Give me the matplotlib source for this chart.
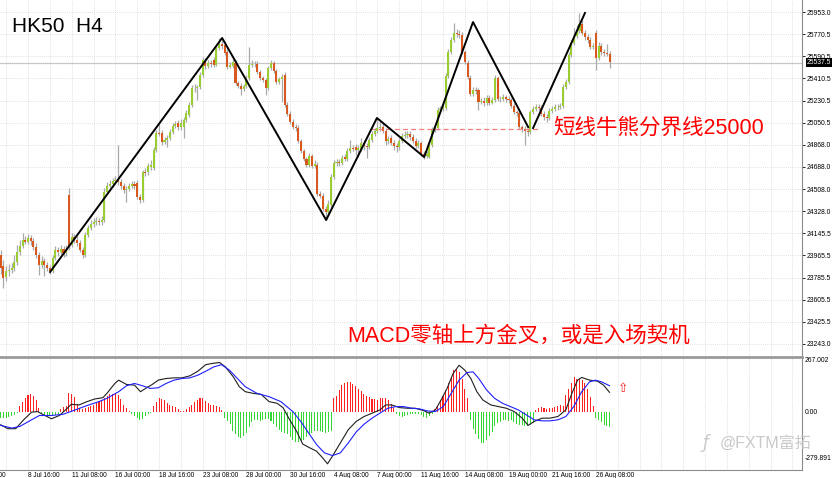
"""HK50 H4 candlestick chart with MACD sub-window (MT4 style screenshot)."""

import matplotlib.pyplot as plt
from matplotlib.transforms import blended_transform_factory

plt.rcParams['font.family'] = ['Liberation Sans', 'Noto Sans CJK SC', 'DejaVu Sans']

# ---- price data (H4 bars) ----
opens = [
    23969, 23880, 23790, 23839, 23847, 23863, 23912, 23994, 24043, 24092,
    24076, 24108, 24084, 24035, 23969, 23888, 23920, 23888, 23863, 23839,
    23945, 24010, 23994, 24018, 23986, 24459, 24051, 24116, 24092, 24067,
    24010, 23969, 24133, 24190, 24222, 24239, 24247, 24239, 24255, 24484,
    24533, 24549, 24573, 24582, 24565, 24533, 24500, 24508, 24533, 24549,
    24557, 24443, 24418, 24647, 24647, 24688, 24680, 24827, 24965, 24965,
    24892, 24908, 24925, 24973, 25022, 25047, 25014, 25014, 25071, 25112,
    25194, 25333, 25333, 25341, 25439, 25545, 25512, 25537, 25561, 25520,
    25659, 25692, 25684, 25627, 25504, 25512, 25537, 25373, 25349, 25324,
    25349, 25414, 25520, 25529, 25529, 25463, 25414, 25398, 25333, 25496,
    25537, 25471, 25382, 25406, 25439, 25194, 25120, 25055, 25014, 25006,
    24900, 24818, 24753, 24704, 24778, 24696, 24704, 24467, 24451, 24345,
    24320, 24378, 24606, 24720, 24729, 24720, 24769, 24753, 24818, 24843,
    24851, 24827, 24835, 24884, 24859, 24851, 24908, 24957, 24982, 25006,
    25014, 24982, 24900, 24925, 24884, 24859, 24851, 24900, 24941, 24949,
    24957, 24933, 24900, 24859, 24884, 24794, 24778, 24769, 24867, 24990,
    25006, 25153, 25161, 25169, 25431, 25627, 25724, 25782, 25773, 25765,
    25627, 25537, 25414, 25284, 25316, 25316, 25218, 25227, 25210, 25251,
    25210, 25235, 25414, 25243, 25243, 25259, 25243, 25235, 25186, 25137,
    25129, 25014, 24998, 24982, 24973, 25137, 25161, 25178, 25169, 25120,
    25096, 25088, 25145, 25161, 25178, 25178, 25186, 25341, 25382, 25602,
    25700, 25757, 25798, 25855, 25782, 25749, 25724, 25667, 25782, 25578,
    25676, 25627, 25618, 25610,
]
highs = [
    24010, 23929, 23880, 23896, 23904, 23969, 24051, 24092, 24149, 24125,
    24141, 24133, 24108, 24067, 23994, 23961, 23945, 23912, 23888, 23969,
    24043, 24035, 24051, 24043, 24051, 24516, 24149, 24141, 24125, 24092,
    24035, 24157, 24214, 24255, 24271, 24280, 24271, 24288, 24516, 24565,
    24582, 24598, 24614, 24867, 24590, 24557, 24533, 24557, 24573, 24573,
    24582, 24467, 24663, 24680, 24720, 24745, 24851, 24990, 25047, 24990,
    24933, 24949, 24998, 25047, 25063, 25071, 25080, 25096, 25153, 25218,
    25357, 25365, 25357, 25463, 25586, 25578, 25561, 25561, 25586, 25684,
    25741, 25724, 25708, 25651, 25545, 25569, 25561, 25390, 25373, 25365,
    25439, 25667, 25561, 25553, 25553, 25480, 25431, 25414, 25512, 25561,
    25553, 25488, 25422, 25447, 25463, 25218, 25145, 25080, 25039, 25031,
    24916, 24835, 24769, 24802, 24794, 24745, 24729, 24492, 24476, 24369,
    24418, 24631, 24745, 24753, 24753, 24786, 24794, 24843, 24908, 24867,
    24876, 24867, 24925, 24908, 24884, 24933, 24982, 25006, 25088, 25071,
    25047, 25006, 24941, 24949, 24908, 24884, 24925, 24965, 24982, 24982,
    24982, 24957, 24925, 24908, 24900, 24818, 24818, 24892, 25014, 25031,
    25178, 25186, 25202, 25455, 25651, 25749, 25863, 25814, 25806, 25790,
    25643, 25561, 25439, 25341, 25341, 25333, 25251, 25259, 25276, 25276,
    25259, 25439, 25431, 25267, 25284, 25276, 25267, 25251, 25210, 25153,
    25145, 25031, 25022, 25006, 25153, 25186, 25202, 25202, 25194, 25145,
    25120, 25169, 25186, 25202, 25202, 25210, 25365, 25406, 25627, 25724,
    25822, 25847, 25945, 25888, 25806, 25773, 25749, 25700, 25806, 25708,
    25700, 25651, 25692, 25635,
]
lows = [
    23814, 23700, 23757, 23798, 23822, 23839, 23888, 23969, 24027, 24059,
    24059, 24051, 24010, 23945, 23806, 23863, 23798, 23839, 23814, 23822,
    23929, 23961, 23977, 23953, 23961, 24010, 24035, 24067, 24043, 23994,
    23945, 23953, 24116, 24173, 24198, 24214, 24214, 24214, 24239, 24467,
    24508, 24524, 24549, 24541, 24508, 24476, 24402, 24492, 24516, 24508,
    24427, 24394, 24402, 24614, 24622, 24663, 24663, 24810, 24941, 24867,
    24876, 24851, 24908, 24957, 25006, 24990, 24990, 24925, 25055, 25096,
    25178, 25300, 25235, 25324, 25422, 25488, 25496, 25504, 25504, 25512,
    25643, 25651, 25602, 25488, 25496, 25496, 25357, 25333, 25276, 25308,
    25333, 25398, 25504, 25504, 25447, 25398, 25382, 25276, 25316, 25480,
    25455, 25365, 25365, 25218, 25178, 25104, 25039, 24998, 24982, 24884,
    24802, 24737, 24688, 24688, 24680, 24680, 24451, 24435, 24329, 24255,
    24296, 24361, 24590, 24696, 24696, 24704, 24737, 24737, 24802, 24818,
    24786, 24769, 24818, 24827, 24761, 24835, 24892, 24941, 24965, 24982,
    24965, 24867, 24876, 24867, 24827, 24810, 24827, 24884, 24925, 24925,
    24908, 24884, 24843, 24843, 24778, 24753, 24761, 24761, 24851, 24973,
    24990, 25137, 25145, 25153, 25414, 25610, 25708, 25749, 25741, 25610,
    25529, 25406, 25267, 25267, 25284, 25153, 25202, 25186, 25194, 25194,
    25202, 25218, 25227, 25218, 25227, 25218, 25210, 25169, 25120, 25104,
    24998, 24973, 24867, 24941, 24957, 25120, 25145, 25145, 25104, 25071,
    25055, 25071, 25129, 25145, 25153, 25161, 25169, 25324, 25365, 25586,
    25684, 25741, 25782, 25765, 25724, 25700, 25651, 25651, 25480, 25561,
    25602, 25594, 25594, 25496,
]
closes = [
    23863, 23782, 23839, 23847, 23863, 23912, 23994, 24043, 24092, 24076,
    24108, 24084, 24035, 23969, 23888, 23920, 23888, 23863, 23839, 23945,
    24010, 23994, 24018, 23986, 24010, 24035, 24116, 24092, 24067, 24010,
    23969, 24133, 24190, 24222, 24239, 24247, 24239, 24255, 24484, 24533,
    24549, 24573, 24582, 24565, 24533, 24500, 24508, 24533, 24549, 24533,
    24443, 24418, 24647, 24640, 24696, 24704, 24827, 24965, 24960, 24892,
    24908, 24925, 24973, 25022, 25039, 25014, 25047, 25071, 25129, 25194,
    25333, 25330, 25338, 25439, 25561, 25512, 25537, 25529, 25520, 25659,
    25692, 25676, 25618, 25504, 25520, 25545, 25373, 25349, 25324, 25349,
    25414, 25520, 25529, 25525, 25463, 25414, 25398, 25333, 25496, 25537,
    25471, 25382, 25406, 25422, 25194, 25120, 25055, 25014, 25006, 24900,
    24818, 24753, 24704, 24778, 24696, 24712, 24467, 24451, 24345, 24320,
    24386, 24606, 24720, 24729, 24720, 24761, 24753, 24818, 24843, 24838,
    24827, 24843, 24884, 24859, 24851, 24908, 24957, 24982, 25006, 25014,
    24982, 24900, 24916, 24884, 24859, 24851, 24900, 24941, 24949, 24957,
    24933, 24900, 24859, 24884, 24794, 24778, 24794, 24867, 24990, 25006,
    25153, 25161, 25178, 25431, 25627, 25724, 25782, 25773, 25765, 25627,
    25545, 25422, 25284, 25316, 25308, 25218, 25227, 25210, 25251, 25210,
    25235, 25414, 25243, 25240, 25259, 25243, 25235, 25186, 25137, 25129,
    25014, 24998, 24982, 24973, 25137, 25161, 25178, 25169, 25120, 25096,
    25088, 25145, 25161, 25178, 25174, 25186, 25341, 25382, 25602, 25700,
    25757, 25798, 25855, 25782, 25749, 25724, 25667, 25676, 25578, 25676,
    25627, 25618, 25610, 25545,
]
last_price = 25537.5

price_ticks = [25953.0, 25770.5, 25590.5, 25410.5, 25230.5, 25050.5, 24868.0, 24688.0,
               24508.0, 24328.0, 24145.5, 23965.5, 23785.5, 23605.5, 23425.5, 23243.0]

date_labels = ["4 Jul 00:00", "8 Jul 16:00", "11 Jul 08:00", "16 Jul 00:00", "18 Jul 16:00",
               "23 Jul 08:00", "28 Jul 00:00", "30 Jul 16:00", "4 Aug 08:00", "7 Aug 00:00",
               "11 Aug 16:00", "14 Aug 08:00", "19 Aug 00:00", "21 Aug 16:00", "26 Aug 08:00"]
date_bars = [-9.8, 10, 26, 42, 58, 74, 90, 106, 122, 138, 154, 170, 186, 202, 218]

# zig-zag trend lines drawn on the chart (bar index, price)
zig1_bars = [18.1, 81.1, 119.2, 137.8, 155.1, 173.0, 193.2]
zig1_prices = [23831, 25741, 24255, 25088, 24769, 25871, 25014]
zig2_bars = [195.0, 214.0]
zig2_prices = [25006, 25945]
bull_bear_level = 25000
level_from, level_to = 135.3, 196.8

# ---- MACD sub window ----
hist = [
    -29, -29, -27, -24, -18, -12, -3, 30, 51, 70,
    83, 86, 80, 59, 22, -3, -13, -16, -18, -19,
    -16, -8, 16, 27, 32, 91, 88, 75, 40, 22,
    17, 20, 25, 32, 35, 42, 52, 60, 69, 76,
    86, 86, 91, 84, 66, 35, 20, 6, -8, -17,
    -27, -38, -31, -17, -7, -3, 30, 50, 70, 66,
    58, 43, 35, 28, 23, 13, 5, 4, 13, 27,
    37, 50, 58, 67, 68, 56, 42, 33, 34, 32,
    25, 10, -30, -42, -55, -92, -108, -120, -125, -116,
    -100, -70, -48, -38, -37, -42, -40, -34, -35, -43,
    -55, -70, -86, -96, -101, -104, -119, -133, -143, -144,
    -139, -134, -122, -112, -100, -93, -92, -91, -97, -101,
    -96, -93, 67, 80, 105, 132, 139, 144, 144, 135,
    125, 110, 101, 88, 79, 71, 64, 63, 59, 67,
    70, 67, 60, 40, 18, -10, -19, -22, -20, -15,
    -9, -8, -10, -8, -13, -23, -30, -20, -8, 17,
    32, 58, 78, 105, 140, 170, 205, 208, 192, 160,
    110, 70, -40, -80, -108, -132, -150, -150, -136, -113,
    -98, -68, -54, -46, -38, -37, -42, -40, -46, -56,
    -61, -61, -69, -69, -64, -54, 12, 19, 26, 22,
    17, 18, 21, 24, 29, 34, 30, 83, 112, 142,
    168, 162, 162, 157, 140, 110, 72, 32, -30, -40,
    -48, -62, -69, -70,
]
macd_bars = [0, 2.6, 5.5, 8.4, 11.3, 13.5, 15.7, 18.6, 21.5, 24.4,
             25.8, 28.7, 31.6, 34.5, 37.4, 38.9, 41.8, 43.2, 46.1, 49,
             51.2, 53.4, 55.5, 57.7, 60.6, 63.5, 66.4, 69.3, 72.2, 75.1,
             78, 80.2, 82.3, 85.2, 87.4, 89.6, 92.5, 95.4, 98.3, 101.2,
             103.4, 105.5, 108.4, 110.6, 112.8, 115.7, 117.9, 119.7, 121.5, 124.4,
             127.3, 130.2, 133.1, 136, 138.9, 141, 143.2, 146.1, 149, 151.9,
             154.8, 157, 159.2, 161.3, 163.5, 165.7, 167.9, 170, 172.2, 174.4,
             176.6, 179.5, 182.3, 185.2, 188.1, 191, 193.2, 195.4, 198.3, 201.2,
             204.1, 207, 209.2, 211.3, 212.8, 215.7, 218.6, 220.8, 223]
macd_vals = [-61, -80, -80, -37, 0, 3, -13, -32, -16, 19,
             38, 35, 51, 64, 70, 91, 139, 155, 134, 131,
             99, 118, 134, 155, 163, 166, 166, 176, 198, 230,
             237, 240, 219, 171, 123, 99, 91, 86, 51, 43,
             22, -29, -93, -154, -170, -189, -221, -250, -213, -149,
             -85, -45, -21, -5, 11, 35, 35, 22, 19, 19,
             8, -5, 11, 59, 115, 187, 227, 203, 163, 99,
             59, 35, 27, 19, 3, -29, -64, -45, -29, -29,
             -21, 11, 91, 155, 168, 155, 150, 131, 96]
signal_bars = [0, 4.1, 7.0, 11.3, 14.2, 18.6, 22.9, 27.3, 31.6, 36,
               38.9, 43.2, 46.1, 49, 51.9, 54.8, 57.7, 60.6, 63.5, 66.4,
               69.3, 72.2, 75.1, 78, 80.9, 83.8, 86.7, 89.6, 93.9, 98.3,
               102.6, 107, 109.9, 112.8, 115.7, 118.6, 121.5, 124.4, 127.3, 130.2,
               133.1, 136, 138.9, 141.8, 144.7, 147.6, 150.5, 153.4, 156.3, 159.2,
               162.1, 165, 167.9, 170.8, 173, 175.1, 178, 180.9, 183.8, 186.7,
               189.6, 192.5, 195.4, 198.3, 201.2, 204.1, 207, 209.9, 212.8, 215.7,
               217.9, 220, 223]
signal_vals = [-64, -77, -69, -37, -16, -16, -10, 11, 32, 51,
               67, 99, 128, 139, 128, 115, 118, 139, 155, 163,
               166, 179, 198, 219, 230, 203, 163, 123, 91, 75,
               51, 3, -45, -101, -157, -197, -210, -197, -149, -96,
               -58, -29, -5, 19, 27, 27, 19, 16, 6, 3,
               27, 91, 155, 192, 195, 163, 107, 67, 43, 27,
               11, -13, -37, -42, -42, -37, -21, 27, 99, 147,
               155, 147, 128]
macd_top, macd_bottom = 267.002, -279.891

BULL = "#9ACD32"
BEAR = "#D9581E"
WICK = "#A9A9A9"
GRID = "#D6D6D6"

W, H = 832, 478
fig = plt.figure(figsize=(W / 100, H / 100), dpi=100)
ax = fig.add_axes([0, 1 - 356 / H, 802 / W, 356 / H])
axm = fig.add_axes([0, 1 - 470 / H, 802 / W, 113 / H], sharex=ax)

n = len(closes)
bars = list(range(n))
x_left, x_right = -0.26, 293.5

# grid
for a in (ax, axm):
    for gx in range(2, 294, 8):
        a.axvline(gx, color=GRID, lw=0.6, ls=(0, (1, 1.5)), zorder=0)
for p in price_ticks:
    ax.axhline(p, color=GRID, lw=0.6, ls=(0, (1, 1.5)), zorder=0)

# candles
ax.vlines(bars, lows, highs, color=WICK, lw=0.9, zorder=2)
bodies_bottom = [min(o, c) for o, c in zip(opens, closes)]
bodies_height = [max(abs(c - o), 6) for o, c in zip(opens, closes)]
colors = [BULL if c >= o else BEAR for o, c in zip(opens, closes)]
ax.bar(bars, bodies_height, bottom=bodies_bottom, width=0.75, color=colors,
       edgecolor="none", zorder=3)

# bid line
ax.axhline(last_price, color="#C8C8C8", lw=0.9, zorder=1)

# trend lines and 25000 level
ax.plot(zig1_bars, zig1_prices, color="black", lw=1.4, zorder=5)
ax.plot(zig2_bars, zig2_prices, color="black", lw=1.4, zorder=5)
ax.plot([level_from, level_to], [bull_bear_level, bull_bear_level],
        color="#F08080", lw=0.9, ls=(0, (4, 2.5)), zorder=4)

ax.set_xlim(x_left, x_right)
ax.set_ylim(23145, 26051)

ax.yaxis.tick_right()
ax.set_yticks(price_ticks)
ax.set_yticklabels([f"{p:.1f}" for p in price_ticks])
ax.tick_params(axis="y", labelsize=4.9, length=2, width=0.6, pad=1.5, colors="black")
ax.tick_params(axis="x", bottom=False, labelbottom=False)
for s in ("top", "left", "bottom"):
    ax.spines[s].set_visible(False)
ax.spines["right"].set_color("#8C8C8C")
ax.spines["right"].set_linewidth(0.8)

ax.text(1.006, last_price, f"{last_price:.1f}",
        transform=blended_transform_factory(ax.transAxes, ax.transData),
        ha="left", va="center", fontsize=4.9, color="white",
        bbox=dict(boxstyle="square,pad=0.15", fc="black", ec="none"), clip_on=False, zorder=10)

# annotations
fig.text(12 / W, 1 - 27 / H, "HK50  H4", fontsize=15, color="black", ha="left", va="center")
fig.text(553 / W, 1 - 128 / H, "短线牛熊分界线25000", fontsize=15.5, color="#FF0000",
         ha="left", va="center")
fig.text(347 / W, 1 - 336 / H, "MACD零轴上方金叉，或是入场契机", fontsize=15.5, color="#FF0000",
         ha="left", va="center")

# MACD window
hist_colors = ["#FF2020" if v >= 0 else "#33D633" for v in hist]
axm.bar(bars, hist, width=0.38, color=hist_colors, edgecolor="none", zorder=2)
axm.plot(macd_bars, macd_vals, color="#202020", lw=0.8, zorder=3)
axm.plot(signal_bars, signal_vals, color="#2020FF", lw=0.8, zorder=3)
axm.set_ylim(macd_bottom, macd_top)
axm.set_xlim(x_left, x_right)
axm.set_yticks([])
axm.tick_params(axis="x", bottom=False, labelbottom=False)
axm.spines["left"].set_visible(False)
axm.spines["top"].set_color("#9A9A9A")
axm.spines["top"].set_linewidth(2)
axm.spines["right"].set_color("#8C8C8C")
axm.spines["right"].set_linewidth(0.8)
axm.spines["bottom"].set_color("#8C8C8C")
axm.spines["bottom"].set_linewidth(0.8)

fig.text(805 / W, 1 - 361 / H, f"{macd_top:.3f}", fontsize=4.9, ha="left", va="center")
fig.text(805 / W, 1 - 412 / H, "0.00", fontsize=4.9, ha="left", va="center")
fig.text(805 / W, 1 - 458 / H, f"{macd_bottom:.3f}", fontsize=4.9, ha="left", va="center")
fig.text(623 / W, 1 - 388 / H, "⇧", fontsize=9, color="#FF2020", ha="center", va="center",
         family="DejaVu Sans")

# watermark
fig.text(703 / W, 1 - 443 / H, "ƒ", fontsize=12, color="#C9C9C9", ha="left", va="center",
         style="italic", family="DejaVu Sans")
fig.text(720 / W, 1 - 443 / H, "@FXTM富拓", fontsize=11.5, color="#C9C9C9",
         ha="left", va="center")

# time axis labels
tx = blended_transform_factory(axm.transData, axm.transAxes)
for b, lab in zip(date_bars, date_labels):
    axm.text(b, -0.02, lab, transform=tx, ha="left", va="top", fontsize=4.7,
             color="black", clip_on=False)

fig.savefig("out.png", dpi=100)
